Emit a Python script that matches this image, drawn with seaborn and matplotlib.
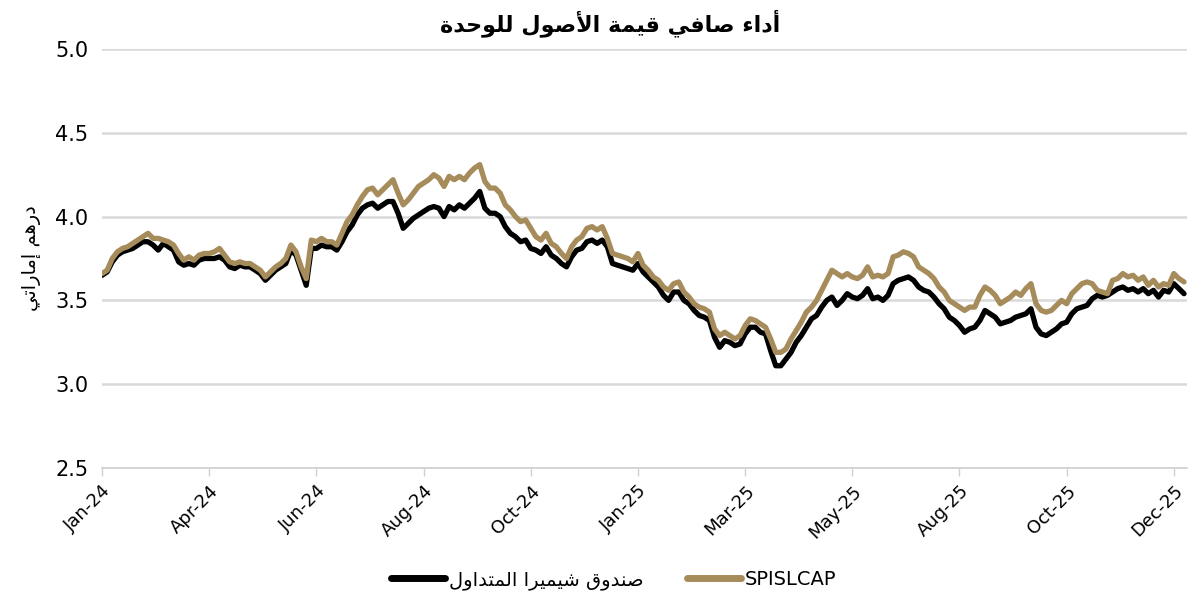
import numpy as np
import pandas as pd
import matplotlib
matplotlib.use("Agg")
import matplotlib.pyplot as plt
import seaborn as sns

# tick labels, one every 21 points
x_labels = ["Jan-24", "Apr-24", "Jun-24", "Aug-24", "Oct-24", "Jan-25",
            "Mar-25", "May-25", "Aug-25", "Oct-25", "Dec-25"]

# NAV per unit
fund = [3.65, 3.67, 3.73, 3.77, 3.79, 3.80, 3.81, 3.83, 3.85, 3.85,
        3.83, 3.80, 3.84, 3.82, 3.80, 3.73, 3.71, 3.72, 3.71, 3.74,
        3.75, 3.75, 3.75, 3.76, 3.74, 3.70, 3.69, 3.71, 3.70, 3.70,
        3.68, 3.66, 3.62, 3.65, 3.68, 3.70, 3.72, 3.80, 3.77, 3.68,
        3.59, 3.81, 3.81, 3.83, 3.82, 3.82, 3.80, 3.85, 3.91, 3.95,
        4.01, 4.05, 4.07, 4.08, 4.05, 4.07, 4.09, 4.09, 4.02, 3.93,
        3.96, 3.99, 4.01, 4.03, 4.05, 4.06, 4.05, 4.00, 4.06, 4.04,
        4.07, 4.05, 4.08, 4.11, 4.15, 4.05, 4.02, 4.02, 4.00, 3.94,
        3.90, 3.88, 3.85, 3.86, 3.81, 3.80, 3.78, 3.82, 3.77, 3.75,
        3.72, 3.70, 3.76, 3.80, 3.81, 3.85, 3.86, 3.84, 3.86, 3.82,
        3.72, 3.71, 3.70, 3.69, 3.68, 3.72, 3.67, 3.64, 3.61, 3.58,
        3.53, 3.50, 3.55, 3.55, 3.50, 3.48, 3.44, 3.41, 3.40, 3.38,
        3.28, 3.22, 3.26, 3.25, 3.23, 3.24, 3.30, 3.34, 3.34, 3.31,
        3.30, 3.20, 3.11, 3.11, 3.15, 3.19, 3.25, 3.29, 3.34, 3.39,
        3.41, 3.46, 3.50, 3.52, 3.47, 3.50, 3.54, 3.52, 3.51, 3.53,
        3.57, 3.51, 3.52, 3.50, 3.53, 3.60, 3.62, 3.63, 3.64, 3.62,
        3.58, 3.56, 3.55, 3.52, 3.48, 3.45, 3.40, 3.38, 3.35, 3.31,
        3.33, 3.34, 3.38, 3.44, 3.42, 3.40, 3.36, 3.37, 3.38, 3.40,
        3.41, 3.42, 3.45, 3.34, 3.30, 3.29, 3.31, 3.33, 3.36, 3.37,
        3.42, 3.45, 3.46, 3.47, 3.51, 3.53, 3.52, 3.53, 3.55, 3.57,
        3.58, 3.56, 3.57, 3.55, 3.57, 3.54, 3.56, 3.52, 3.56, 3.55,
        3.60, 3.57, 3.54]

spislcap = [3.66, 3.68, 3.75, 3.79, 3.81, 3.82, 3.84, 3.86, 3.88, 3.90,
            3.87, 3.87, 3.86, 3.85, 3.83, 3.78, 3.74, 3.76, 3.74, 3.77,
            3.78, 3.78, 3.79, 3.81, 3.77, 3.73, 3.72, 3.73, 3.72, 3.72,
            3.70, 3.68, 3.64, 3.67, 3.70, 3.72, 3.75, 3.83, 3.79, 3.70,
            3.63, 3.86, 3.85, 3.87, 3.85, 3.85, 3.83, 3.90, 3.97, 4.01,
            4.07, 4.12, 4.16, 4.17, 4.13, 4.16, 4.19, 4.22, 4.14, 4.07,
            4.10, 4.14, 4.18, 4.20, 4.22, 4.25, 4.23, 4.18, 4.24, 4.22,
            4.24, 4.22, 4.26, 4.29, 4.31, 4.21, 4.17, 4.17, 4.14, 4.07,
            4.04, 4.00, 3.97, 3.98, 3.93, 3.88, 3.86, 3.90, 3.84, 3.82,
            3.78, 3.75, 3.82, 3.86, 3.88, 3.93, 3.94, 3.92, 3.94, 3.87,
            3.78, 3.77, 3.76, 3.75, 3.73, 3.78, 3.71, 3.68, 3.64, 3.62,
            3.58, 3.56, 3.60, 3.61, 3.55, 3.52, 3.48, 3.46, 3.45, 3.43,
            3.33, 3.29, 3.31, 3.29, 3.27, 3.29, 3.35, 3.39, 3.38, 3.36,
            3.34, 3.27, 3.19, 3.19, 3.21, 3.27, 3.32, 3.37, 3.43, 3.46,
            3.50, 3.56, 3.62, 3.68, 3.66, 3.64, 3.66, 3.64, 3.63, 3.65,
            3.70, 3.64, 3.65, 3.64, 3.66, 3.76, 3.77, 3.79, 3.78, 3.76,
            3.70, 3.68, 3.66, 3.63, 3.58, 3.55, 3.50, 3.48, 3.46, 3.44,
            3.46, 3.46, 3.53, 3.58, 3.56, 3.53, 3.48, 3.50, 3.52, 3.55,
            3.53, 3.57, 3.60, 3.48, 3.44, 3.43, 3.44, 3.47, 3.50, 3.48,
            3.54, 3.57, 3.60, 3.61, 3.60, 3.56, 3.55, 3.54, 3.62, 3.63,
            3.66, 3.64, 3.65, 3.62, 3.64, 3.59, 3.62, 3.58, 3.60, 3.59,
            3.66, 3.63, 3.61]

title_text = "أداء صافي قيمة الأصول للوحدة"
ylabel_text = "درهم إماراتي"
fund_name = "صندوق شيميرا المتداول"
index_name = "SPISLCAP"

# matplotlib has no arabic shaping, so pick presentation forms by hand
# (isolated codepoint, joining type) D = dual, R = right only, U = none
AR_FORMS = {
    "ء": (0xFE80, "U"), "أ": (0xFE83, "R"), "إ": (0xFE87, "R"),
    "ا": (0xFE8D, "R"), "ة": (0xFE93, "R"), "ت": (0xFE95, "D"),
    "ح": (0xFEA1, "D"), "د": (0xFEA9, "R"), "ر": (0xFEAD, "R"),
    "ش": (0xFEB5, "D"), "ص": (0xFEB9, "D"), "ف": (0xFED1, "D"),
    "ق": (0xFED5, "D"), "ل": (0xFEDD, "D"), "م": (0xFEE1, "D"),
    "ن": (0xFEE5, "D"), "ه": (0xFEE9, "D"), "و": (0xFEED, "R"),
    "ي": (0xFEF1, "D"),
}
LAM_ALEF = {"ا": 0xFEFB, "أ": 0xFEF7, "إ": 0xFEF9}


def shape_arabic(text):
    tokens = []
    i = 0
    while i < len(text):
        c = text[i]
        if c == "ل" and i + 1 < len(text) and text[i + 1] in LAM_ALEF:
            tokens.append(("LA", text[i + 1]))
            i += 2
        else:
            tokens.append(c)
            i += 1

    def jtype(t):
        if isinstance(t, tuple):
            return "R"
        return AR_FORMS.get(t, (None, "U"))[1]

    out = []
    for k, t in enumerate(tokens):
        prev = tokens[k - 1] if k > 0 else None
        nxt = tokens[k + 1] if k + 1 < len(tokens) else None
        jt = jtype(t)
        join_prev = prev is not None and jtype(prev) == "D" and jt in ("D", "R")
        join_next = nxt is not None and jt == "D" and jtype(nxt) in ("D", "R")
        if isinstance(t, tuple):
            out.append(chr(LAM_ALEF[t[1]] + (1 if join_prev else 0)))
        elif t not in AR_FORMS:
            out.append(t)
        elif jt == "U":
            out.append(chr(AR_FORMS[t][0]))
        else:
            if join_prev and join_next:
                off = 3
            elif join_prev:
                off = 1
            elif join_next:
                off = 2
            else:
                off = 0
            out.append(chr(AR_FORMS[t][0] + off))
    return "".join(reversed(out))


sns.set_theme(style="white")
plt.rcParams["font.family"] = ["DejaVu Sans"]
plt.rcParams["text.color"] = "black"
plt.rcParams["axes.labelcolor"] = "black"

df = pd.DataFrame({"idx": np.arange(len(fund)), "fund": fund, "spis": spislcap})

fig = plt.figure(figsize=(12.01, 6.01), dpi=100)
ax = fig.add_axes([0.085, 0.2213, 0.903, 0.6972])

sns.lineplot(data=df, x="idx", y="fund", color="black", lw=3.8,
             label=shape_arabic(fund_name), ax=ax)
sns.lineplot(data=df, x="idx", y="spis", color="#A68B5B", lw=3.8,
             label=index_name, ax=ax)

ax.set_ylim(2.5, 5.0)
ax.set_yticks(np.arange(2.5, 5.01, 0.5))
ax.set_yticklabels([f"{v:.1f}" for v in np.arange(2.5, 5.01, 0.5)], fontsize=15)
ax.set_xlim(0, len(fund) - 0.5)
ax.set_xticks(np.arange(0, len(fund), 21)[:len(x_labels)])
ax.set_xticklabels(x_labels, rotation=45, ha="right", rotation_mode="anchor",
                   fontsize=13)
ax.tick_params(axis="y", length=0, pad=10, labelcolor="black")
ax.tick_params(axis="x", length=6, width=1, color="#D0D0D0", direction="out",
               bottom=True, pad=4, labelcolor="black")

ax.grid(axis="y", color="#D9D9D9", lw=1.8)
ax.grid(axis="x", visible=False)
for s in ["top", "right", "left"]:
    ax.spines[s].set_visible(False)
ax.spines["bottom"].set_color("#D0D0D0")
ax.spines["bottom"].set_linewidth(1.2)
ax.set_axisbelow(True)

ax.set_xlabel("")
ax.set_ylabel(shape_arabic(ylabel_text), fontsize=14, labelpad=10)

fig.suptitle(shape_arabic(title_text), fontsize=16, fontweight="bold",
             x=0.508, y=0.985)

leg = ax.legend(loc="center", bbox_to_anchor=(0.511, 0.035),
                bbox_transform=fig.transFigure, ncol=2, frameon=False,
                fontsize=14, handlelength=2.8, columnspacing=2.2,
                handletextpad=0.2)
for line in leg.get_lines():
    line.set_linewidth(5)

fig.savefig("out.png", dpi=100)
